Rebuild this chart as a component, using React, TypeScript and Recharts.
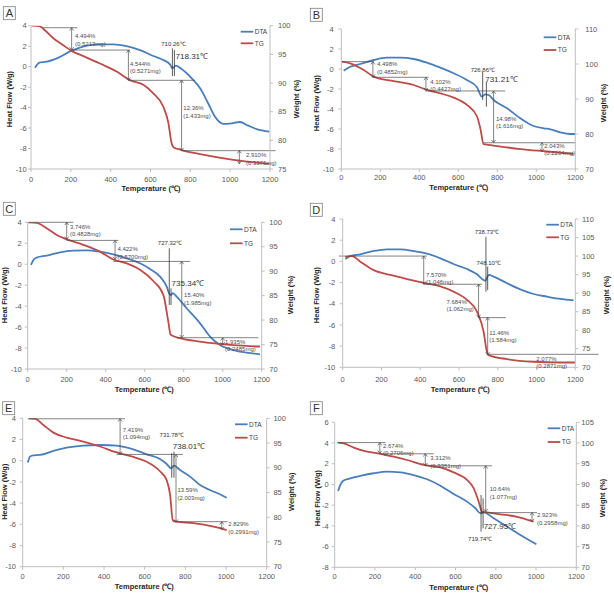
import React from 'react';
import { ComposedChart, Line, XAxis, YAxis, ReferenceLine, ReferenceDot } from 'recharts';

const FONT = '"Liberation Sans", Arial, sans-serif';
const BLUE = '#4A7EBB';
const RED = '#BE4B48';
const AXIS = '#BFBFBF';
const NOTE = '#4D4D4D';
const TICK = '#595959';

const tempTicks = [0, 200, 400, 600, 800, 1000, 1200];
const heatTicks = [-10, -8, -6, -4, -2, 0, 2, 4];
const heatTicksF = [-8, -6, -4, -2, 0, 2, 4, 6];
const weightTicksA = [75, 80, 85, 90, 95, 100];
const weightTicksB = [70, 80, 90, 100, 110];
const weightTicksC = [70, 75, 80, 85, 90, 95, 100];
const weightTicksD = [70, 75, 80, 85, 90, 95, 100, 105, 110];
const weightTicksF = [70, 75, 80, 85, 90, 95, 100, 105];

// ---------- Panel A ----------
const aDtaT = [20, 45, 79, 129, 204, 280, 346, 413, 480, 547, 614, 664, 698, 710, 726, 756, 807, 849, 890, 924, 966, 1008, 1049, 1091, 1133, 1197];
const aDtaV = [-0.1, 0.42, 0.48, 0.8, 1.56, 2.05, 2.18, 2.18, 2.0, 1.62, 1.04, 0.65, 0.22, -0.17, 0.09, -0.23, -1.14, -2.12, -3.6, -4.9, -5.6, -5.54, -5.41, -5.77, -6.1, -6.35];
const aTgT = [3, 45, 70, 112, 162, 204, 263, 346, 430, 497, 564, 614, 664, 690, 706, 715, 756, 849, 1016, 1197];
const aTgW = [100, 99.9, 99.2, 97.8, 96.6, 95.6, 94.7, 93.4, 92.0, 90.5, 89.7, 88.2, 85.9, 83.0, 79.5, 78.8, 78.3, 77.6, 76.6, 75.9];
const aLevels = [[60, 99.65, 233], [204, 95.75, 497], [489, 90.47, 823], [756, 78.2, 1228]];
const aArrows = [[204, 99.65, 95.75], [489, 95.75, 90.47], [756, 90.47, 78.2], [1046, 78.2, 75.9]];
const aMarks = [[710, 1.79, -0.92], [720, 1.62, -0.92]];
const aNotes = [
  { t: 221, w: 98.2, text: ['4.494%', '(0.5213mg)'] },
  { t: 497, w: 93.4, text: ['4.544%', '(0.5271mg)'] },
  { t: 765, w: 85.6, text: ['12.36%', '(1.433mg)'] },
  { t: 1079, w: 77.4, text: ['2.910%', '(0.3376mg)'] },
];
const aTempNotes = [
  { t: 715, v: 2.27, text: '710.26℃', big: false },
  { t: 726, v: 1.04, text: '718.31℃', big: true },
];

// ---------- Panel B ----------
const bDtaT = [12, 46, 97, 166, 234, 303, 371, 439, 508, 576, 644, 696, 721, 738, 756, 781, 850, 918, 986, 1038, 1072, 1123, 1174, 1200];
const bDtaV = [-0.17, 0.23, 0.5, 0.9, 1.13, 1.13, 1.0, 0.63, 0.13, -0.43, -1.1, -1.83, -2.77, -2.53, -2.6, -3.1, -3.93, -4.93, -5.7, -5.93, -6.03, -6.33, -6.5, -6.5];
const bTgT = [3, 46, 115, 166, 268, 371, 439, 508, 576, 644, 696, 713, 730, 781, 918, 1055, 1191];
const bTgW = [100.7, 100.2, 98.3, 96.4, 95.1, 94.0, 92.6, 91.6, 90.4, 88.3, 85.0, 81.6, 77.1, 76.7, 75.7, 75.0, 74.3];
const bLevels = [[0, 100.67, 166], [162, 96.2, 448], [434, 92.3, 841], [730, 77.5, 1200]];
const bArrows = [[162, 100.67, 96.2], [434, 96.2, 92.4], [781, 92.3, 77.5], [1029, 77.5, 75.0]];
const bMarks = [[725, -0.27, -3.1], [744, -1.27, -3.77]];
const bNotes = [
  { t: 183, w: 100.0, text: ['4.498%', '(0.4852mg)'] },
  { t: 456, w: 95.0, text: ['4.102%', '(0.4427mg)'] },
  { t: 793, w: 84.3, text: ['14.98%', '(1.616mg)'] },
  { t: 1041, w: 76.6, text: ['2.043%', '(0.2204mg)'] },
];
const bTempNotes = [
  { t: 726, v: -0.1, text: '726.86℃', big: false },
  { t: 738, v: -1.03, text: '731.21℃', big: true },
];

// ---------- Panel C ----------
const cDtaT = [17, 29, 46, 97, 166, 234, 303, 371, 439, 508, 576, 627, 679, 713, 726, 735, 744, 764, 815, 884, 935, 986, 1055, 1123, 1191];
const cDtaV = [-0.07, 0.4, 0.63, 0.82, 1.14, 1.3, 1.33, 1.2, 0.95, 0.56, 0.09, -0.45, -1.19, -2.14, -2.81, -2.94, -2.75, -3.1, -4.2, -5.64, -6.91, -7.71, -8.19, -8.44, -8.6];
const cTgT = [3, 46, 97, 149, 200, 285, 371, 439, 508, 576, 644, 696, 721, 733, 781, 884, 1055, 1191];
const cTgW = [100, 99.9, 98.8, 97.4, 96.5, 95.4, 94.0, 92.4, 91.6, 90.3, 88.0, 85.1, 79.7, 77.0, 76.3, 75.6, 74.9, 74.6];
const cLevels = [[3, 100, 234], [200, 96.3, 465], [439, 92.0, 833], [764, 76.4, 1183]];
const cArrows = [[200, 100, 96.5], [448, 96.3, 92.4], [790, 92.0, 76.4], [1000, 76.4, 74.9]];
const cMarks = [[726, 1.52, -3.89], [735, -2.3, -3.89]];
const cNotes = [
  { t: 217, w: 99.1, text: ['3.746%', '(0.4828mg)'] },
  { t: 460, w: 94.5, text: ['4.422%', '(0.5700mg)'] },
  { t: 802, w: 85.1, text: ['15.40%', '(1.985mg)'] },
  { t: 1012, w: 75.6, text: ['1.935%', '(0.2485mg)'] },
];
const cTempNotes = [
  { t: 730, v: 2.06, text: '727.32℃', big: false },
  { t: 738, v: -1.82, text: '735.34℃', big: true },
];

// ---------- Panel D ----------
const dDtaT = [14, 40, 91, 160, 229, 297, 366, 435, 504, 572, 641, 693, 727, 736, 753, 779, 848, 916, 985, 1054, 1123, 1191];
const dDtaV = [0.23, 0.51, 0.67, 0.98, 1.14, 1.14, 0.98, 0.73, 0.29, -0.25, -0.72, -1.22, -1.76, -1.82, -1.28, -1.44, -2.07, -2.64, -3.08, -3.33, -3.55, -3.68];
const dTgT = [14, 48, 91, 160, 246, 332, 418, 504, 572, 641, 693, 727, 744, 753, 848, 985, 1123, 1200];
const dTgW = [99.8, 100, 98.5, 96.2, 94.9, 93.8, 92.8, 91.8, 90.4, 88.2, 85.0, 79.6, 74.2, 73.3, 72.2, 71.5, 71.3, 71.3];
const dLevels = [[-20, 100, 435], [418, 92.4, 719], [701, 83.4, 842], [744, 73.5, 1320]];
const dArrows = [[418, 100, 92.4], [701, 92.4, 83.4], [748, 83.4, 73.3]];
const dMarks = [[739, 2.33, -2.86], [748, -0.5, -2.7]];
const dNotes = [
  { t: 430, w: 94.9, text: ['7.570%', '(1.046mg)'] },
  { t: 535, w: 87.7, text: ['7.684%', '(1.062mg)'] },
  { t: 756, w: 79.35, text: ['11.46%', '(1.584mg)'] },
  { t: 999, w: 72.4, text: ['2.077%', '(0.2871mg)'] },
];
const dTempNotes = [
  { t: 744, v: 2.8, text: '738.73℃', big: false },
  { t: 753, v: -0.18, text: '748.10℃', big: false },
];

// ---------- Panel E ----------
const eDtaT = [25, 36, 52, 85, 151, 216, 298, 380, 462, 544, 610, 675, 708, 730, 744, 774, 823, 872, 921, 970, 1003];
const eDtaV = [-0.18, 0.38, 0.51, 0.54, 0.92, 1.23, 1.42, 1.48, 1.42, 1.07, 0.6, 0.16, -0.31, -0.72, -0.47, -0.88, -1.5, -2.29, -2.76, -3.17, -3.49];
const eTgT = [28, 61, 102, 151, 216, 298, 380, 462, 544, 610, 675, 708, 725, 738, 757, 839, 938, 1003];
const eTgW = [100, 99.9, 98.65, 97.1, 96.1, 95.3, 94.3, 93.1, 92.2, 91.2, 89.3, 87.5, 84.5, 79.4, 79.1, 78.8, 78.1, 77.4];
const eLevels = [[28, 99.9, 503], [462, 92.7, 787], [741, 79.1, 1008]];
const eArrows = [[479, 99.9, 92.7], [754, 92.7, 79.0], [979, 79.1, 77.5]];
const eMarks = [[733, 0.7, -1.6], [744, 0.85, -1.6]];
const eNotes = [
  { t: 492, w: 97.7, text: ['7.419%', '(1.094mg)'] },
  { t: 761, w: 85.5, text: ['13.59%', '(2.003mg)'] },
  { t: 1011, w: 78.6, text: ['2.829%', '(0.2991mg)'] },
];
const eTempNotes = [
  { t: 733, v: 2.43, text: '731.78℃', big: false },
  { t: 738, v: 1.33, text: '738.01℃', big: true },
];

// ---------- Panel F ----------
const fDtaT = [17, 28, 41, 78, 127, 194, 260, 326, 392, 459, 525, 591, 657, 699, 724, 740, 790, 856, 922, 1002];
const fDtaV = [-0.63, -0.05, 0.34, 0.59, 0.82, 1.08, 1.24, 1.17, 0.91, 0.5, -0.12, -0.92, -1.66, -2.3, -2.79, -2.69, -3.27, -4.07, -4.88, -5.78];
const fTgT = [17, 45, 94, 161, 227, 293, 359, 442, 525, 591, 657, 690, 715, 732, 748, 823, 906, 988];
const fTgW = [100.1, 99.9, 98.9, 97.9, 97.4, 96.7, 95.9, 94.7, 94.1, 92.9, 91.1, 89.1, 85.9, 83.4, 83.3, 82.8, 82.2, 81.0];
const fLevels = [[12, 100.1, 252], [224, 97.4, 492], [450, 94.5, 781], [724, 83.2, 1005]];
const fArrows = [[224, 100.1, 97.5], [450, 97.4, 94.5], [750, 94.5, 83.4], [980, 83.2, 81.0]];
const fMarks = [[727, -1.02, -4.56], [737, -1.34, -4.24]];
const fNotes = [
  { t: 240, w: 99.3, text: ['2.674%', '(0.2706mg)'] },
  { t: 475, w: 96.3, text: ['3.312%', '(0.3351mg)'] },
  { t: 770, w: 88.9, text: ['10.64%', '(1.077mg)'] },
  { t: 1005, w: 82.6, text: ['2.923%', '(0.2958mg)'] },
];
const fTempNotes = [
  { t: 740, v: -4.07, text: '727.95℃', big: true },
  { t: 723, v: -5.26, text: '719.74℃', big: false },
];

type Spec = {
  letter: string;
  ox: number; oy: number; w: number; h: number;
  L: number; R: number; T: number; B: number;
  leftGap: number; rightGap: number; xGap: number;
  heatDomain: [number, number]; heatTicks: number[];
  weightDomain: [number, number]; weightTicks: number[];
  dtaT: number[]; dtaV: number[]; tgT: number[]; tgW: number[];
  levels: number[][]; arrows: number[][]; marks: number[][];
  notes: { t: number; w: number; text: string[] }[];
  tempNotes: { t: number; v: number; text: string; big: boolean }[];
  legend: number[]; box: number[]; titles: number[][];
};

const specs: Spec[] = [
  {
    letter: 'A', ox: 0, oy: 0, w: 307, h: 195, L: 31, R: 270, T: 25.7, B: 169,
    leftGap: 4.3, rightGap: 8, xGap: 7.3,
    heatDomain: [-10, 4], heatTicks, weightDomain: [75, 100], weightTicks: weightTicksA,
    dtaT: aDtaT, dtaV: aDtaV, tgT: aTgT, tgW: aTgW,
    levels: aLevels, arrows: aArrows, marks: aMarks, notes: aNotes, tempNotes: aTempNotes,
    legend: [240.7, 31.7, 11.6], box: [3.3, 6.7], titles: [[9.3, 99], [296, 99], [151, 188]],
  },
  {
    letter: 'B', ox: 307, oy: 0, w: 307, h: 195, L: 341.3, R: 575.3, T: 29, B: 169,
    leftGap: 7.6, rightGap: 10, xGap: 5.6,
    heatDomain: [-10, 4], heatTicks, weightDomain: [70, 110], weightTicks: weightTicksB,
    dtaT: bDtaT, dtaV: bDtaV, tgT: bTgT, tgW: bTgW,
    levels: bLevels, arrows: bArrows, marks: bMarks, notes: bNotes, tempNotes: bTempNotes,
    legend: [543.7, 37.3, 12.7], box: [310.3, 8.3], titles: [[316.3, 103], [603, 103], [458.7, 187.3]],
  },
  {
    letter: 'C', ox: 0, oy: 195, w: 307, h: 200, L: 27.7, R: 261.7, T: 222.3, B: 369,
    leftGap: 6, rightGap: 7.6, xGap: 7.3,
    heatDomain: [-10, 4], heatTicks, weightDomain: [70, 100], weightTicks: weightTicksC,
    dtaT: cDtaT, dtaV: cDtaV, tgT: cTgT, tgW: cTgW,
    levels: cLevels, arrows: cArrows, marks: cMarks, notes: cNotes, tempNotes: cTempNotes,
    legend: [230, 229.3, 14], box: [3.3, 202.3], titles: [[4.5, 295], [290, 295], [144.3, 389.3]],
  },
  {
    letter: 'D', ox: 307, oy: 195, w: 307, h: 200, L: 342.7, R: 575.3, T: 219, B: 367.3,
    leftGap: 7.4, rightGap: 6.7, xGap: 9.3,
    heatDomain: [-10, 4], heatTicks, weightDomain: [70, 110], weightTicks: weightTicksD,
    dtaT: dDtaT, dtaV: dDtaV, tgT: dTgT, tgW: dTgW,
    levels: dLevels, arrows: dArrows, marks: dMarks, notes: dNotes, tempNotes: dTempNotes,
    legend: [546.3, 224.7, 12.6], box: [310.3, 203.3], titles: [[316.3, 295], [606, 295], [460.3, 389]],
  },
  {
    letter: 'E', ox: 0, oy: 395, w: 307, h: 198, L: 22.7, R: 266.7, T: 418.3, B: 566.7,
    leftGap: 6.7, rightGap: 6.7, xGap: 7.3,
    heatDomain: [-10, 4], heatTicks, weightDomain: [70, 100], weightTicks: weightTicksC,
    dtaT: eDtaT, dtaV: eDtaV, tgT: eTgT, tgW: eTgW,
    levels: eLevels, arrows: eArrows, marks: eMarks, notes: eNotes, tempNotes: eTempNotes,
    legend: [235, 424.3, 13.4], box: [2.7, 401.7], titles: [[4.5, 491.7], [291, 491.7], [144.3, 586]],
  },
  {
    letter: 'F', ox: 307, oy: 395, w: 307, h: 198, L: 334.7, R: 576.3, T: 422.3, B: 567.3,
    leftGap: 6, rightGap: 5, xGap: 6.7,
    heatDomain: [-8, 6], heatTicks: heatTicksF, weightDomain: [70, 105], weightTicks: weightTicksF,
    dtaT: fDtaT, dtaV: fDtaV, tgT: fTgT, tgW: fTgW,
    levels: fLevels, arrows: fArrows, marks: fMarks, notes: fNotes, tempNotes: fTempNotes,
    legend: [547.7, 428.3, 13.7], box: [310.3, 401.7], titles: [[317, 498], [602, 498], [458.7, 587.3]],
  },
];

const arrowShape = (p: any) => {
  const { x1, y1, x2, y2 } = p;
  const top = Math.min(y1, y2);
  const bot = Math.max(y1, y2);
  const a = 2;
  const b = 2.8;
  return (
    <g>
      <line x1={x1} y1={top} x2={x2} y2={bot} stroke={NOTE} strokeWidth={0.7} />
      <path
        d={`M${x1 - a},${top + b}L${x1},${top}L${x1 + a},${top + b}M${x1 - a},${bot - b}L${x1},${bot}L${x1 + a},${bot - b}`}
        fill="none"
        stroke={NOTE}
        strokeWidth={0.7}
      />
    </g>
  );
};

const noteShape = (lines: string[], size: number, anchor: string, color: string) => (p: any) => (
  <text fontSize={size} fill={color} fontFamily={FONT} textAnchor={anchor}>
    {lines.map((l, i) => (
      <tspan key={i} x={p.cx} y={p.cy + i * 7.4 + size * 0.35}>
        {l}
      </tspan>
    ))}
  </text>
);

function Panel({ s }: { s: Spec }) {
  const dta = s.dtaT.map((t, i) => ({ t, v: s.dtaV[i] }));
  const tg = s.tgT.map((t, i) => ({ t, w: s.tgW[i] }));
  const leftW = s.L - s.ox;
  const rightW = s.ox + s.w - s.R;
  const topM = s.T - s.oy;
  const xH = s.oy + s.h - s.B;
  const tickStyle = { fontSize: 7.5, fill: TICK, fontFamily: FONT };
  const [lx, ly, ldy] = s.legend;
  const rx = (v: number) => v - s.ox;
  const ry = (v: number) => v - s.oy;
  return (
    <div style={{ position: 'absolute', left: s.ox, top: s.oy, width: s.w, height: s.h }}>
      <ComposedChart width={s.w} height={s.h} margin={{ top: topM, right: 0, bottom: 0, left: 0 }}>
        <XAxis
          dataKey="t"
          type="number"
          domain={[0, 1200]}
          ticks={tempTicks}
          height={xH}
          tick={tickStyle}
          tickSize={3}
          tickMargin={s.xGap - 3}
          axisLine={{ stroke: AXIS }}
          tickLine={{ stroke: AXIS }}
          allowDataOverflow
        />
        <YAxis
          yAxisId="left"
          orientation="left"
          type="number"
          width={leftW}
          domain={s.heatDomain}
          ticks={s.heatTicks}
          tick={tickStyle}
          tickSize={3}
          tickMargin={s.leftGap - 3}
          axisLine={{ stroke: AXIS }}
          tickLine={{ stroke: AXIS }}
          allowDataOverflow
        />
        <YAxis
          yAxisId="right"
          orientation="right"
          type="number"
          width={rightW}
          domain={s.weightDomain}
          ticks={s.weightTicks}
          tick={tickStyle}
          tickSize={3}
          tickMargin={s.rightGap - 3}
          axisLine={{ stroke: AXIS }}
          tickLine={{ stroke: AXIS }}
          allowDataOverflow
        />
        <Line yAxisId="left" data={dta} dataKey="v" type="monotone" stroke={BLUE} strokeWidth={1.8} dot={false} isAnimationActive={false} />
        <Line yAxisId="right" data={tg} dataKey="w" type="monotone" stroke={RED} strokeWidth={1.8} dot={false} isAnimationActive={false} />
        {s.levels.map((l, i) => (
          <ReferenceLine
            key={'h' + i}
            yAxisId="right"
            segment={[{ x: l[0], y: l[1] }, { x: l[2], y: l[1] }]}
            stroke={NOTE}
            strokeWidth={0.7}
            ifOverflow="visible"
          />
        ))}
        {s.arrows.map((a, i) => (
          <ReferenceLine
            key={'a' + i}
            yAxisId="right"
            segment={[{ x: a[0], y: a[1] }, { x: a[0], y: a[2] }]}
            shape={arrowShape}
            ifOverflow="visible"
          />
        ))}
        {s.marks.map((m, i) => (
          <ReferenceLine
            key={'m' + i}
            yAxisId="left"
            segment={[{ x: m[0], y: m[1] }, { x: m[0], y: m[2] }]}
            stroke="#333333"
            strokeWidth={0.8}
            ifOverflow="visible"
          />
        ))}
        {s.notes.map((n, i) => (
          <ReferenceDot
            key={'n' + i}
            yAxisId="right"
            x={n.t}
            y={n.w}
            r={0}
            ifOverflow="visible"
            shape={noteShape(n.text, 6, 'start', NOTE)}
          />
        ))}
        {s.tempNotes.map((n, i) => (
          <ReferenceDot
            key={'tn' + i}
            yAxisId="left"
            x={n.t}
            y={n.v}
            r={0}
            ifOverflow="visible"
            shape={noteShape([n.text], n.big ? 8 : 6, n.big ? 'start' : 'middle', '#333333')}
          />
        ))}
      </ComposedChart>
      <svg
        width={s.w}
        height={s.h}
        style={{ position: 'absolute', left: 0, top: 0, pointerEvents: 'none', overflow: 'visible' }}
        fontFamily={FONT}
      >
        <rect x={rx(s.box[0])} y={ry(s.box[1])} width={12} height={13} fill="#fff" stroke="#7F7F7F" strokeWidth={0.8} />
        <text x={rx(s.box[0]) + 6} y={ry(s.box[1]) + 10.5} fontSize={11} fill="#333" textAnchor="middle">
          {s.letter}
        </text>
        <line x1={rx(lx)} y1={ry(ly)} x2={rx(lx) + 12.6} y2={ry(ly)} stroke={BLUE} strokeWidth={1.8} />
        <text x={rx(lx) + 14} y={ry(ly) + 2.3} fontSize={6.5} fill="#404040">DTA</text>
        <line x1={rx(lx)} y1={ry(ly) + ldy} x2={rx(lx) + 12.6} y2={ry(ly) + ldy} stroke={RED} strokeWidth={1.8} />
        <text x={rx(lx) + 14} y={ry(ly) + ldy + 2.3} fontSize={6.5} fill="#404040">TG</text>
        <text
          transform={`translate(${rx(s.titles[0][0])},${ry(s.titles[0][1])}) rotate(-90)`}
          fontSize={7.5}
          fontWeight="bold"
          fill="#262626"
          textAnchor="middle"
          dy="0.35em"
        >
          Heat Flow (W/g)
        </text>
        <text
          transform={`translate(${rx(s.titles[1][0])},${ry(s.titles[1][1])}) rotate(-90)`}
          fontSize={7.5}
          fontWeight="bold"
          fill="#262626"
          textAnchor="middle"
          dy="0.35em"
        >
          Weight (%)
        </text>
        <text
          x={rx(s.titles[2][0])}
          y={ry(s.titles[2][1])}
          fontSize={7.5}
          fontWeight="bold"
          fill="#262626"
          textAnchor="middle"
          dy="0.35em"
        >
          Temperature (℃)
        </text>
      </svg>
    </div>
  );
}

export default function App() {
  return (
    <div style={{ position: 'absolute', left: 0, top: 0, width: 614, height: 593, background: '#fff', overflow: 'hidden' }}>
      {specs.map((s) => (
        <Panel key={s.letter} s={s} />
      ))}
    </div>
  );
}
